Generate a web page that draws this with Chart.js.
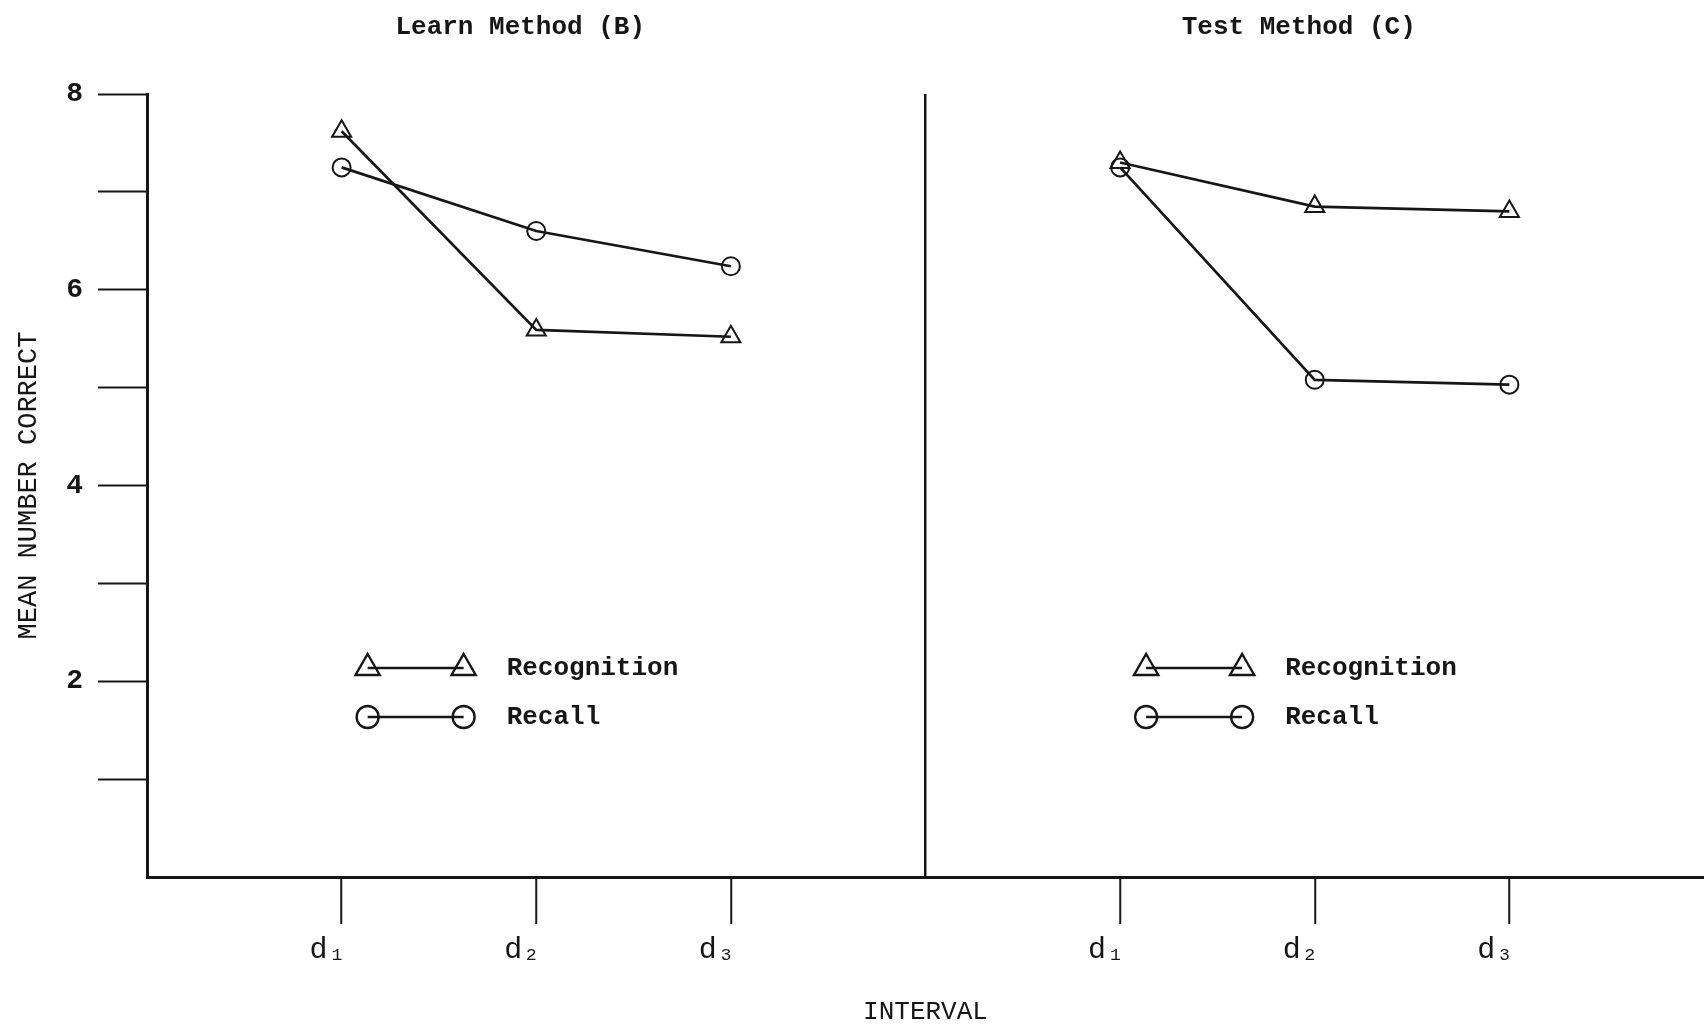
<!DOCTYPE html>
<html>
<head>
<meta charset="utf-8">
<script src="https://cdn.jsdelivr.net/npm/chart.js@4.4.0/dist/chart.umd.min.js"></script>
<style>
  html, body { margin: 0; padding: 0; background: #fff; }
</style>
</head>
<body>
<canvas id="chart" width="1704" height="1033"></canvas>
<script>
// intervalos (iguais nos dois painéis)
const intervals = ['d₁', 'd₂', 'd₃'];
const panelTitles = ['Learn Method (B)', 'Test Method (C)'];
const seriesNames = ['Recognition', 'Recall'];
const yTickLabels = [2, 4, 6, 8];

// médias
const learnRecognition = [7.62, 5.59, 5.52];
const learnRecall = [7.25, 6.60, 6.24];
const testRecognition = [7.30, 6.85, 6.80];
const testRecall = [7.25, 5.08, 5.03];

const ink = '#161616';
const mono = '"Liberation Mono", "DejaVu Sans Mono", monospace';

// eixo x: vazio | painel B | divisória | painel C | vazio
const labels = ['', ...intervals, '', ...intervals, ''];
const empty = intervals.map(() => null);
const leftPanel = vals => [null, ...vals, null, ...empty, null];
const rightPanel = vals => [null, ...empty, null, ...vals, null];
const panelStart = [1, intervals.length + 2];

function serie(label, values, style) {
    return {
        label: label,
        data: values,
        borderColor: ink,
        borderWidth: 2.7,
        pointStyle: style,
        pointRadius: style === 'triangle' ? 11 : 9,
        pointBorderWidth: 2,
        pointBackgroundColor: 'rgba(0,0,0,0)',
        pointBorderColor: ink,
        spanGaps: false,
        tension: 0
    };
}

function marker(ctx, style, x, y) {
    ctx.beginPath();
    if (style === 'triangle') {
        const r = 14;
        ctx.moveTo(x, y - r);
        ctx.lineTo(x + r * 0.866, y + r * 0.5);
        ctx.lineTo(x - r * 0.866, y + r * 0.5);
        ctx.closePath();
    } else {
        ctx.arc(x, y, 11, 0, Math.PI * 2);
    }
    ctx.stroke();
}

// legenda e títulos de cada painel
const panelDecor = {
    id: 'panelDecor',
    afterDatasetsDraw(chart) {
        const { ctx, scales: { x } } = chart;
        const styles = ['triangle', 'circle'];
        ctx.save();
        ctx.strokeStyle = ink;
        ctx.fillStyle = ink;
        ctx.lineWidth = 2.4;
        panelStart.forEach((start, p) => {
            const x0 = x.getPixelForValue(start) + 26;
            const x1 = x0 + 96;
            seriesNames.forEach((name, i) => {
                const yy = 668 + i * 49;
                marker(ctx, styles[i], x0, yy);
                marker(ctx, styles[i], x1, yy);
                ctx.beginPath();
                ctx.moveTo(x0, yy);
                ctx.lineTo(x1, yy);
                ctx.stroke();
                ctx.font = 'bold 26px ' + mono;
                ctx.textAlign = 'left';
                ctx.textBaseline = 'middle';
                ctx.fillText(name, x0 + 139, yy);
            });
            ctx.font = 'bold 26px ' + mono;
            ctx.textAlign = 'center';
            ctx.textBaseline = 'middle';
            ctx.fillText(panelTitles[p], x.getPixelForValue(start + 1) - 16, 27);
        });
        ctx.restore();
    }
};

const config = {
    type: 'line',
    data: {
        labels: labels,
        datasets: [
            serie(seriesNames[0], leftPanel(learnRecognition), 'triangle'),
            serie(seriesNames[1], leftPanel(learnRecall), 'circle'),
            serie(seriesNames[0], rightPanel(testRecognition), 'triangle'),
            serie(seriesNames[1], rightPanel(testRecall), 'circle')
        ]
    },
    options: {
        responsive: false,
        devicePixelRatio: 1,
        animation: false,
        layout: { autoPadding: false, padding: { top: 94, right: 0, left: 0, bottom: 0 } },
        plugins: {
            legend: { display: false },
            tooltip: { enabled: false }
        },
        scales: {
            x: {
                type: 'category',
                offset: false,
                afterFit: s => { s.height = 156; s.paddingLeft = 0; s.paddingRight = 0; },
                border: { display: true, color: ink, width: 3 },
                grid: {
                    drawOnChartArea: true,
                    color: c => c.index === intervals.length + 1 ? ink : 'rgba(0,0,0,0)',
                    lineWidth: 2.5,
                    tickColor: c => labels[c.index] ? ink : 'rgba(0,0,0,0)',
                    tickLength: 47,
                    tickWidth: 2
                },
                ticks: {
                    autoSkip: false,
                    maxRotation: 0,
                    padding: 8,
                    labelOffset: -14,
                    color: ink,
                    font: { family: mono, size: 30 }
                },
                title: {
                    display: true,
                    text: 'INTERVAL',
                    color: ink,
                    font: { family: mono, size: 26 },
                    padding: { top: 0, bottom: 5 }
                }
            },
            y: {
                min: 0,
                max: 8,
                afterFit: s => { s.width = 147; },
                border: { display: true, color: ink, width: 3 },
                grid: {
                    drawOnChartArea: false,
                    tickLength: 49,
                    tickWidth: 2,
                    tickColor: c => c.index === 0 ? 'rgba(0,0,0,0)' : ink
                },
                ticks: {
                    stepSize: 1,
                    padding: 15,
                    color: ink,
                    font: { family: mono, size: 28, weight: 'bold' },
                    callback: v => yTickLabels.includes(v) ? v : ''
                },
                title: {
                    display: true,
                    text: 'MEAN NUMBER CORRECT',
                    color: ink,
                    font: { family: mono, size: 27 },
                    padding: { top: 13, bottom: 0 }
                }
            }
        }
    },
    plugins: [panelDecor]
};

const grafico = new Chart(document.getElementById('chart'), config);
</script>
</body>
</html>
